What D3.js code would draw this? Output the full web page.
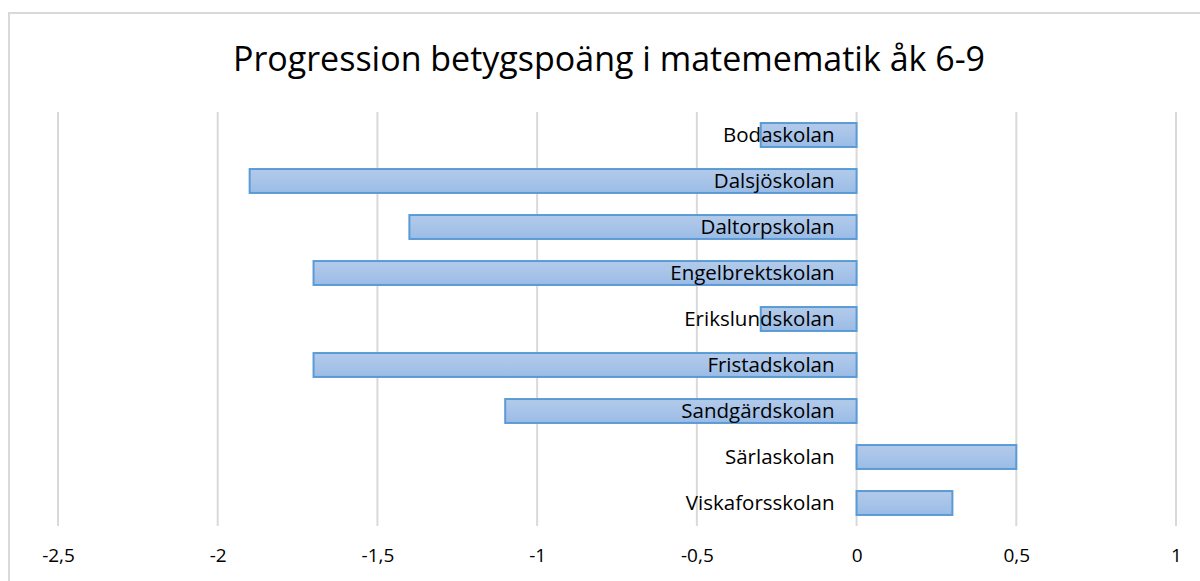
<!DOCTYPE html>
<html>
<head>
<meta charset="utf-8">
<script src="https://cdn.jsdelivr.net/npm/d3@7"></script>
<style>
  body { margin: 0; background: #fff; }
  text { font-family: "Open Sans", sans-serif; fill: #000; }
</style>
</head>
<body>
<div id="main"></div>
<script>
let schools = ["Bodaskolan", "Dalsjöskolan", "Daltorpskolan", "Engelbrektskolan", "Erikslundskolan",
    "Fristadskolan", "Sandgärdskolan", "Särlaskolan", "Viskaforsskolan"]
let progression = [-0.3, -1.9, -1.4, -1.7, -0.3, -1.7, -1.1, 0.5, 0.3]
let xTicks = [-2.5, -2, -1.5, -1, -0.5, 0, 0.5, 1]
let title = "Progression betygspoäng i matemematik åk 6-9"

let width = 1200, height = 581
let margin = {top: 112, right: 24, bottom: 55, left: 58}
let pxX = width - margin.left - margin.right,
    pxY = height - margin.top - margin.bottom

let svg = d3.select("#main").append("svg")
    .attr("width", width)
    .attr("height", height)

// chart border
svg.append("rect")
    .attr("x", 9).attr("y", 13)
    .attr("width", width + 20).attr("height", height + 20)
    .attr("fill", "none")
    .attr("stroke", "#d9d9d9")
    .attr("stroke-width", 2)

let grad = svg.append("defs").append("linearGradient")
    .attr("id", "barFill").attr("x1", 0).attr("y1", 0).attr("x2", 0).attr("y2", 1)
grad.append("stop").attr("offset", "0%").attr("stop-color", "#b3cbeb")
grad.append("stop").attr("offset", "100%").attr("stop-color", "#9bbce6")

svg.append("text")
    .attr("x", width / 2 + 9)
    .attr("y", 71)
    .attr("text-anchor", "middle")
    .attr("font-size", 34)
    .text(title)

let g = svg.append("g")
    .attr("transform", `translate(${margin.left} ${margin.top})`)

let scX = d3.scaleLinear().domain([-2.5, 1]).range([0, pxX])
let scY = d3.scaleBand().domain(schools).range([0, pxY]).paddingInner(0.48).paddingOuter(0.24)

// gridlines
g.append("g").selectAll("line").data(xTicks).enter()
    .append("line")
    .attr("x1", d=>scX(d)).attr("x2", d=>scX(d))
    .attr("y1", 0).attr("y2", pxY)
    .attr("stroke", "#d9d9d9")
    .attr("stroke-width", 2)

g.append("g").selectAll("rect").data(progression).enter()
    .append("rect")
    .attr("x", d=>scX(Math.min(0, d)))
    .attr("y", (d, i)=>scY(schools[i]))
    .attr("width", d=>Math.abs(scX(d) - scX(0)))
    .attr("height", scY.bandwidth())
    .attr("fill", "url(#barFill)")
    .attr("stroke", "#5b9bd5")
    .attr("stroke-width", 2)

// category labels sit just left of zero
g.append("g").selectAll("text").data(schools).enter()
    .append("text")
    .attr("x", scX(0) - 22)
    .attr("y", d=>scY(d) + scY.bandwidth() / 2)
    .attr("dy", "0.36em")
    .attr("text-anchor", "end")
    .attr("font-size", 20.5)
    .text(d=>d)

let axis = d3.axisBottom(scX)
    .tickValues(xTicks)
    .tickSize(0)
    .tickPadding(23)
    .tickFormat(d=>String(d).replace(".", ","))
let ax = g.append("g")
    .attr("transform", `translate(0, ${pxY})`)
    .call(axis)
ax.select(".domain").remove()
ax.selectAll("text").attr("font-size", 19).style("font-family", "'Open Sans', sans-serif").attr("fill", "#000")
</script>
</body>
</html>
